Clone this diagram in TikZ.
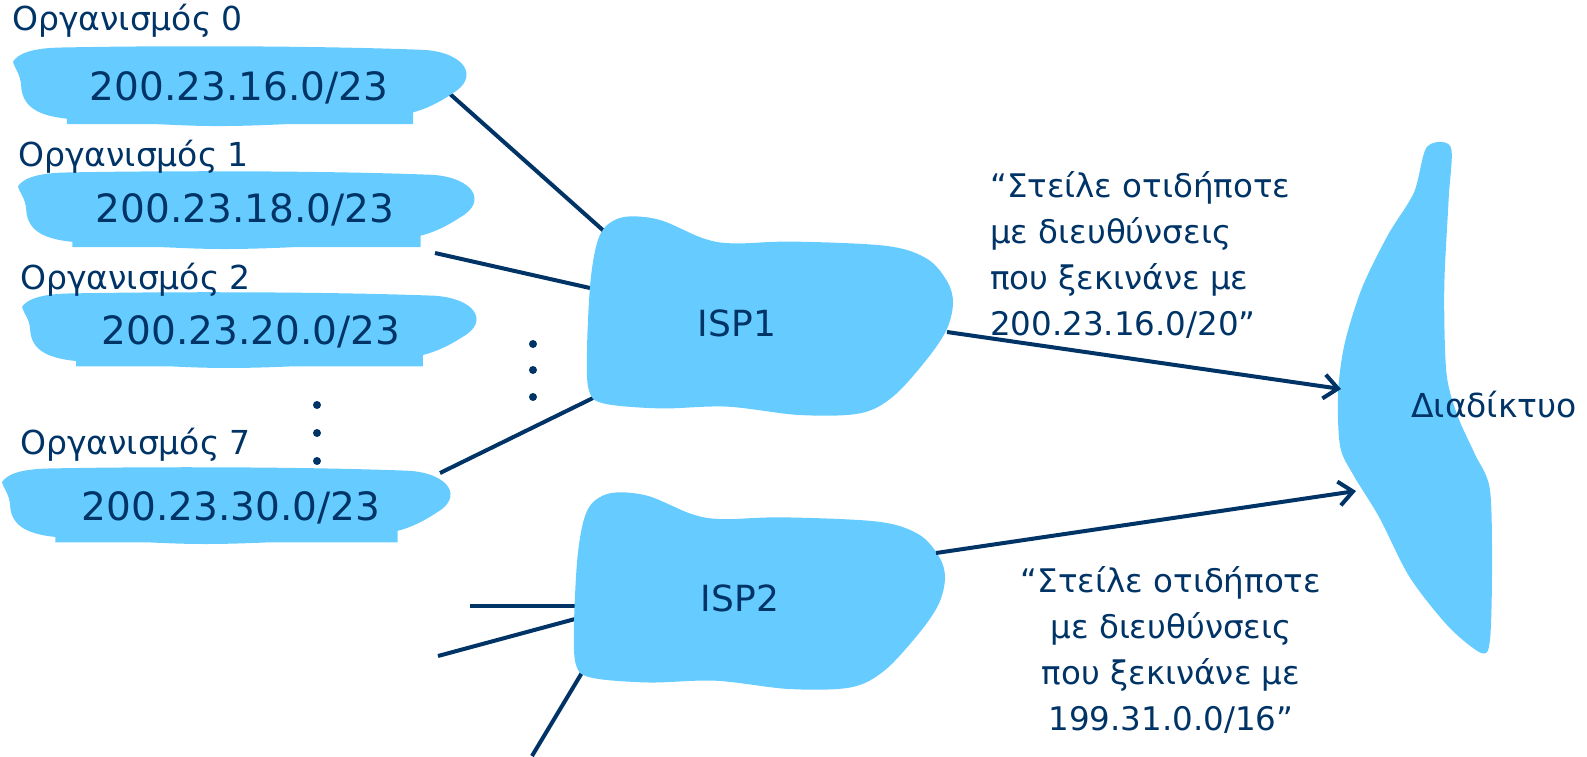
\documentclass[tikz,border=0pt]{standalone}
\usepackage{fontspec}
\setmainfont{DejaVu Sans}
\usetikzlibrary{arrows.meta}
\definecolor{blobblue}{HTML}{66CCFF}
\definecolor{navy}{HTML}{003366}
\newcommand\OrgBlob[4]{\fill[blobblue,shift={(#1,#2)},x=#3pt,y=-#4pt]
 (0,0.2) .. controls (0.01,0.1) and (0.04,0.03) .. (0.1,0.02)
 .. controls (0.35,-0.01) and (0.7,0.0) .. (0.91,0.05)
 .. controls (1.0,0.09) and (1.03,0.4) .. (0.97,0.6)
 .. controls (0.94,0.72) and (0.91,0.8) .. (0.883,0.84)
 -- (0.883,0.99) -- (0.6,0.99) .. controls (0.45,1.03) and (0.4,1.01) .. (0.32,0.99)
 -- (0.119,0.99) -- (0.119,0.92)
 .. controls (0.05,0.88) and (0.02,0.75) .. (0.018,0.5)
 .. controls (0.016,0.35) and (0.005,0.3) .. cycle;}
\newcommand\ISPBlob[4]{\fill[blobblue,shift={(#1,#2)},x=#3pt,y=-#4pt]
 plot[smooth cycle,tension=0.55] coordinates {(0.055,0.045) (0.109,0.003) (0.2,0.02) (0.318,0.112) (0.4,0.137) (0.564,0.128) (0.82,0.15) (0.93,0.215) (0.985,0.33) (1,0.437) (0.982,0.57) (0.927,0.72) (0.836,0.903) (0.745,0.987) (0.58,0.995) (0.382,0.953) (0.2,0.962) (0.045,0.937) (0.005,0.87) (0,0.67) (0.009,0.337) (0.027,0.137)};}
\begin{document}
\begin{tikzpicture}[x=1pt,y=-1pt,
  conn/.style={draw=navy,line width=4pt},
  arr/.style={conn,-{Straight Barb[length=14pt,width=24pt,line width=4pt]}},
  orglabel/.style={text=navy,font=\fontsize{33}{38}\selectfont,inner sep=0pt,anchor=west},
  orgnum/.style={text=navy,font=\fontsize{39}{46}\selectfont,inner sep=0pt},
  isptext/.style={text=navy,font=\fontsize{36}{42}\selectfont,inner sep=0pt},
  msg/.style={text=navy,font=\fontsize{32.5}{46}\selectfont,inner sep=0pt},
  dotmark/.style={fill=navy,circle,inner sep=0pt,minimum size=8pt}]
\useasboundingbox (0,0) rectangle (1587,756);
% connector end points
\coordinate (o0) at (450,94);
\coordinate (o1) at (435,253);
\coordinate (o7) at (440,473);
\coordinate (i1a) at (605,232);
\coordinate (i1b) at (590,288);
\coordinate (i1c) at (593,398);
\coordinate (i1out) at (947,332);
\coordinate (i2out) at (936,553);
\coordinate (net1) at (1341,389);
\coordinate (net2) at (1356,491);
\coordinate (s1a) at (470,606);
\coordinate (s1b) at (575,606);
\coordinate (s2a) at (438,656);
\coordinate (s2b) at (575,619);
\coordinate (s3a) at (532,756);
\coordinate (s3b) at (583,671);
% connectors
\draw[conn] (o0) -- (i1a);
\draw[conn] (o1) -- (i1b);
\draw[conn] (o7) -- (i1c);
\draw[conn] (s1a) -- (s1b);
\draw[conn] (s2a) -- (s2b);
\draw[conn] (s3a) -- (s3b);
% blobs
\OrgBlob{13}{46}{453}{79}
\OrgBlob{18}{171}{456}{77}
\OrgBlob{22}{292}{454}{75}
\OrgBlob{2}{467}{448}{76}
\ISPBlob{587}{216}{366}{200}
\ISPBlob{574}{492}{371}{198}
\fill[blobblue,shift={(1338,147)},x=154pt,y=-506pt]
 plot[smooth cycle,tension=0.5] coordinates {(0.577,0) (0.493,0.09) (0.324,0.174) (0.155,0.279) (0.042,0.39) (0,0.488) (0.014,0.592) (0.099,0.648) (0.268,0.732) (0.465,0.85) (0.718,0.948) (0.93,1) (0.986,0.976) (1,0.836) (0.986,0.676) (0.887,0.606) (0.775,0.53) (0.704,0.446) (0.69,0.279) (0.718,0.105) (0.732,0)};
% arrows
\draw[arr] (i1out) -- (net1);
\draw[arr] (i2out) -- (net2);
% texts
\node[orglabel] (l0) at (12,21) {Οργανισμός 0};
\node[orgnum] (n0) at (239,88) {200.23.16.0/23};
\node[orglabel] (l1) at (18,157) {Οργανισμός 1};
\node[orgnum] (n1) at (245,210) {200.23.18.0/23};
\node[orglabel] (l2) at (20,280) {Οργανισμός 2};
\node[orgnum] (n2) at (251,332) {200.23.20.0/23};
\node[orglabel] (l7) at (20,445) {Οργανισμός 7};
\node[orgnum] (n7) at (231,508) {200.23.30.0/23};
\node[dotmark] (d1) at (317,405) {};
\node[dotmark] (d2) at (317,433) {};
\node[dotmark] (d3) at (317,461) {};
\node[dotmark] (d4) at (533,344) {};
\node[dotmark] (d5) at (533,370) {};
\node[dotmark] (d6) at (533,397) {};
\node[isptext] (isp1) at (737,323) {ISP1};
\node[isptext] (isp2) at (740,598) {ISP2};
\node[text=navy,font=\fontsize{33}{40}\selectfont,inner sep=0pt] (net) at (1494,405) {Διαδίκτυο};
\node[msg,align=left,anchor=north west] (m1) at (990,171) {“Στείλε οτιδήποτε\\με διευθύνσεις\\που ξεκινάνε με\\200.23.16.0/20”};
\node[msg,align=center,anchor=north] (m2) at (1171,566) {“Στείλε οτιδήποτε\\με διευθύνσεις\\που ξεκινάνε με\\199.31.0.0/16”};
\end{tikzpicture}
\end{document}
